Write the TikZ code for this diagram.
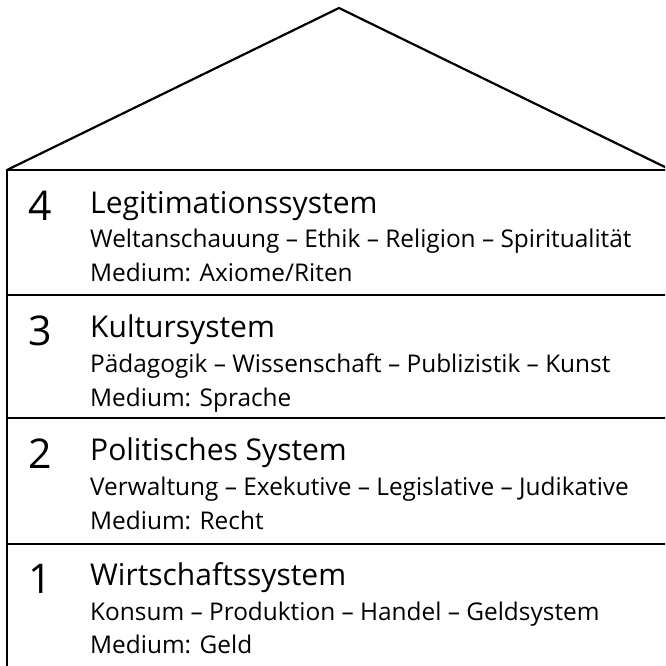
\documentclass[tikz,border=0pt]{standalone}
\usepackage{fontspec}
\setmainfont{Open Sans}
\begin{document}
\begin{tikzpicture}[x=1pt,y=-1pt,
  wall/.style={line width=2.2pt,line join=miter},
  num/.style={font=\fontsize{41}{41}\selectfont,anchor=base west,inner sep=0pt},
  ttl/.style={font=\fontsize{30}{30}\selectfont,anchor=base west,inner sep=0pt},
  body/.style={font=\fontsize{24.4}{24.4}\selectfont,anchor=base west,inner sep=0pt}]
\useasboundingbox (0,0) rectangle (665,666);
\clip (0,0) rectangle (665,666);
% house outline
\coordinate (apex) at (339,8);
\coordinate (bl) at (7,170);
\coordinate (br) at (671,170);
\draw[wall] (bl) -- (apex) -- (br);
\draw[wall] (br) -- (bl) -- (7,670);
\draw[wall] (671,170) -- (671,670);
\draw[wall] (7,295) -- (671,295);
\draw[wall] (7,418) -- (671,418);
\draw[wall] (7,544) -- (671,544);
% section 4
\node[num] (n4) at (28,220) {4};
\node[ttl] (t4) at (90,213) {Legitimationssystem};
\node[body] (a4) at (90,247) {Weltanschauung – Ethik – Religion – Spiritualität};
\node[body] (b4) at (90,281) {Medium: Axiome/Riten};
% section 3
\node[num] (n3) at (28,345) {3};
\node[ttl] (t3) at (90,337) {Kultursystem};
\node[body] (a3) at (90,372) {Pädagogik – Wissenschaft – Publizistik – Kunst};
\node[body] (b3) at (90,406) {Medium: Sprache};
% section 2
\node[num] (n2) at (28,468) {2};
\node[ttl] (t2) at (90,460) {Politisches System};
\node[body] (a2) at (90,495) {Verwaltung – Exekutive – Legislative – Judikative};
\node[body] (b2) at (90,529) {Medium: Recht};
% section 1
\node[num] (n1) at (28,593) {1};
\node[ttl] (t1) at (90,585) {Wirtschaftssystem};
\node[body] (a1) at (90,620) {Konsum – Produktion – Handel – Geldsystem};
\node[body] (b1) at (90,653) {Medium: Geld};
\end{tikzpicture}
\end{document}
